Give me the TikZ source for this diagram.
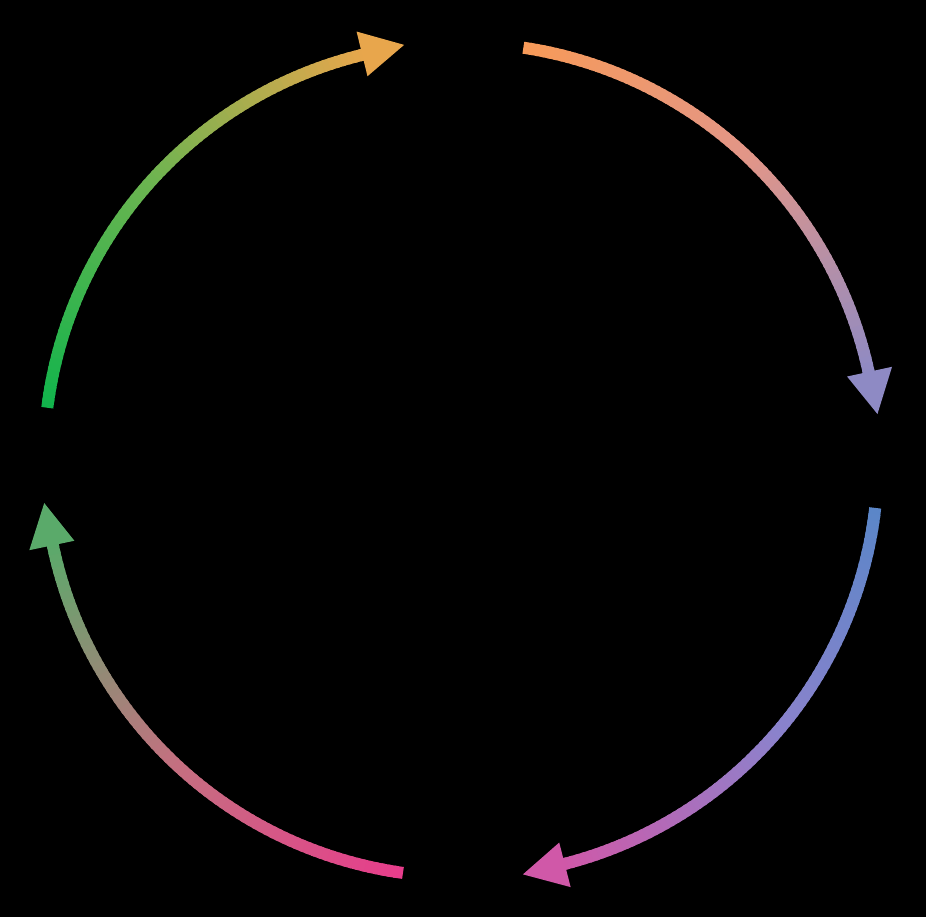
\documentclass[tikz,border=0pt]{standalone}
\definecolor{aA}{RGB}{247,154,88}
\definecolor{aB}{RGB}{226,150,136}
\definecolor{aC}{RGB}{142,138,196}
\definecolor{bA}{RGB}{90,134,200}
\definecolor{bB}{RGB}{140,130,204}
\definecolor{bC}{RGB}{208,88,168}
\definecolor{cA}{RGB}{232,60,140}
\definecolor{cB}{RGB}{196,112,128}
\definecolor{cC}{RGB}{90,170,106}
\definecolor{dA}{RGB}{16,180,76}
\definecolor{dB}{RGB}{108,180,80}
\definecolor{dC}{RGB}{232,166,76}
\tikzset{shaft/.style={line width=12pt}}
\newcommand\gradarc[5]{%
  \pgfmathsetmacro\dirs{(#2-#1)/abs(#2-#1)}%
  \pgfmathsetmacro\shend{#2-\dirs*5.4}%
  \pgfmathsetmacro\hbase{#2-\dirs*5.9}%
  \foreach \i in {1,...,80}{%
    \pgfmathsetmacro\aa{#1+(\shend-#1)*(\i-1)/80}%
    \pgfmathsetmacro\bb{#1+(\shend-#1)*\i/80+(\i<80)*\dirs*0.4}%
    \ifnum\i<41
      \pgfmathtruncatemacro\pp{100-200*(\i-0.5)/80}%
      \colorlet{cc}{#3!\pp!#4}%
    \else
      \pgfmathtruncatemacro\pp{100-200*((\i-0.5)/80-0.5)}%
      \colorlet{cc}{#4!\pp!#5}%
    \fi
    \draw[shaft, cc] (\aa:417) arc[start angle=\aa, end angle=\bb, radius=417];
  }%
  \fill[#5] (#2:419) -- (\hbase:395) -- (\hbase:441) -- cycle;
}
\begin{document}
\begin{tikzpicture}[x=1pt,y=1pt]
\fill[black] (0,0) rectangle (926,917);
\useasboundingbox (0,0) rectangle (926,917);
\begin{scope}[shift={(461,457)}]
\gradarc{81.4}{6.3}{aA}{aB}{aC}
\gradarc{-6.6}{-81.5}{bA}{bB}{bC}
\gradarc{262}{185.9}{cA}{cB}{cC}
\gradarc{172.8}{97.8}{dA}{dB}{dC}
\end{scope}
\end{tikzpicture}
\end{document}
